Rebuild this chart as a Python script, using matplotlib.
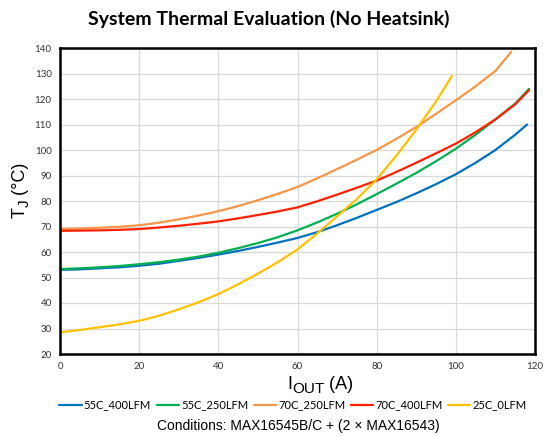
import matplotlib
matplotlib.use("Agg")
import matplotlib.pyplot as plt

# (IOUT in A, TJ in degC)
x_55c_400 = [0, 5, 10, 15, 20, 25, 30, 35, 40, 45, 50, 55, 60, 65, 70, 75, 80, 85, 90, 95, 100, 105, 110, 115, 118]
y_55c_400 = [53, 53.2, 53.6, 54, 54.6, 55.4, 56.5, 57.7, 59, 60.4, 62, 63.7, 65.5, 67.8, 70.5, 73.4, 76.5, 79.6,
             83, 86.6, 90.5, 95, 100, 106, 110]

x_55c_250 = [0, 5, 10, 15, 20, 25, 30, 35, 40, 45, 50, 55, 60, 65, 70, 75, 80, 85, 90, 95, 100, 105, 110, 115, 118.5]
y_55c_250 = [53.3, 53.6, 54, 54.5, 55.2, 56, 57, 58.2, 59.7, 61.5, 63.5, 65.8, 68.5, 71.6, 75, 78.7, 82.7, 86.8,
             91, 95.6, 100.5, 106, 112, 118.2, 124]

x_70c_250 = [0, 5, 10, 15, 20, 25, 30, 35, 40, 45, 50, 55, 60, 65, 70, 75, 80, 85, 90, 95, 100, 105, 110, 114]
y_70c_250 = [69, 69.2, 69.5, 69.9, 70.5, 71.5, 72.8, 74.3, 76, 78, 80.3, 82.8, 85.5, 88.9, 92.5, 96.2, 100, 104.4,
             109, 114.2, 119.5, 125, 131, 138.5]

x_70c_400 = [0, 5, 10, 15, 20, 25, 30, 35, 40, 45, 50, 55, 60, 65, 70, 75, 80, 85, 90, 95, 100, 105, 110, 115, 118.5]
y_70c_400 = [68.3, 68.4, 68.5, 68.7, 69, 69.6, 70.3, 71.1, 72, 73.2, 74.5, 75.9, 77.5, 79.9, 82.5, 85.2, 88, 91.4,
             95, 98.7, 102.5, 107, 112, 117.9, 123.5]

x_25c_0 = [0, 5, 10, 15, 20, 25, 30, 35, 40, 45, 50, 55, 60, 65, 70, 75, 80, 85, 90, 95, 99]
y_25c_0 = [28.5, 29.4, 30.5, 31.6, 33, 35, 37.5, 40.3, 43.5, 47.3, 51.5, 56, 61, 67.3, 74, 80.8, 88.5, 97.8,
           108, 119, 129]

series = [
    ("55C_400LFM", x_55c_400, y_55c_400, "#0070C0"),
    ("55C_250LFM", x_55c_250, y_55c_250, "#00B050"),
    ("70C_250LFM", x_70c_250, y_70c_250, "#F79646"),
    ("70C_400LFM", x_70c_400, y_70c_400, "#FF2000"),
    ("25C_0LFM", x_25c_0, y_25c_0, "#FFC000"),
]

x_ticks = [0, 20, 40, 60, 80, 100, 120]
y_ticks = list(range(20, 141, 10))

W, H = 543, 437
fig = plt.figure(figsize=(W / 100, H / 100), dpi=100, facecolor="white")
ax = fig.add_axes([60 / W, 83 / H, 475 / W, 306 / H])

for name, xs, ys, col in series:
    ax.plot(xs, ys, color=col, lw=1.6, label=name, solid_capstyle="round")

ax.set_xlim(0, 120)
ax.set_ylim(20, 140)
ax.set_xticks(x_ticks)
ax.set_yticks(y_ticks)
ax.grid(True, color="#d9d9d9", lw=0.9)
ax.set_axisbelow(True)
ax.tick_params(length=0, labelsize=7, labelcolor="#333333")
ax.tick_params(axis="x", pad=6)
ax.tick_params(axis="y", pad=6)
for lbl in ax.get_xticklabels() + ax.get_yticklabels():
    lbl.set_family("Lato")
for sp in ax.spines.values():
    sp.set_linewidth(1.8)
    sp.set_color("black")

fig.text(269 / W, 1 - 19 / H, "System Thermal Evaluation (No Heatsink)",
         ha="center", va="center", fontsize=14, fontweight="bold", family="Lato")


# label built from pieces so the subscript stays big like in the original
def pieced_label(parts, px, py, vertical=False):
    renderer = fig.canvas.get_renderer()
    pos = px if not vertical else py
    for txt, size, drop in parts:
        if vertical:
            t = fig.text((px + drop) / W, 1 - pos / H, txt, rotation=90, rotation_mode="anchor",
                         ha="left", va="baseline", fontsize=size, family="Liberation Sans")
            ext = t.get_window_extent(renderer)
            pos -= ext.height
        else:
            t = fig.text(pos / W, 1 - (py + drop) / H, txt, ha="left", va="baseline",
                         fontsize=size, family="Liberation Sans")
            ext = t.get_window_extent(renderer)
            pos += ext.width


pieced_label([("T", 13, 0), ("J", 11, 4), (" (°C)", 13, 0)], 25, 218, vertical=True)
pieced_label([("I", 13, 0), ("OUT", 11, 4), (" (A)", 13, 0)], 287, 389)

leg = fig.legend(loc="center", bbox_to_anchor=(293 / W, 1 - 405 / H), ncol=5,
                 frameon=False, handlelength=2.0, handletextpad=0.2,
                 columnspacing=0.5, prop={"family": "Lato", "size": 8})

fig.text(298 / W, 1 - 426 / H, "Conditions: MAX16545B/C + (2 × MAX16543)",
         ha="center", va="center", fontsize=10, family="Liberation Sans")

fig.savefig("out.png", dpi=100)
